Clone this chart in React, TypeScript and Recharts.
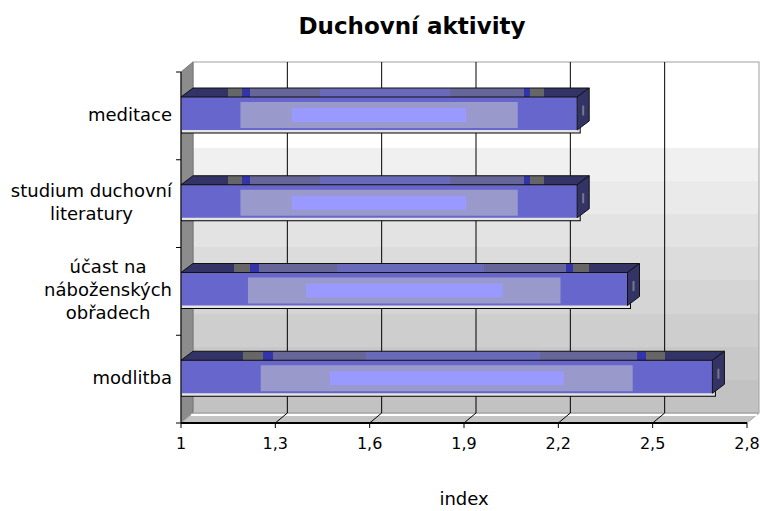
import { BarChart, Bar, XAxis, YAxis, CartesianGrid } from 'recharts';

const categories = ['meditace', 'studium duchovní literatury', 'účast na náboženských obřadech', 'modlitba'];
const categoryLines = [['meditace'], ['studium duchovní', 'literatury'], ['účast na', 'náboženských', 'obřadech'], ['modlitba']];
const values = [2.26, 2.26, 2.42, 2.69];
const xTicks = [1, 1.3, 1.6, 1.9, 2.2, 2.5, 2.8];

const data = categories.map((name, i) => ({ name, lines: categoryLines[i], value: values[i] }));

const W = 760;
const H = 511;
const PLOT_L = 181;
const PLOT_R = 747;
const PLOT_T = 72;
const PLOT_B = 423;
const DX = 12;
const DY = 10;
const BAND = (PLOT_B - PLOT_T) / categories.length;
const FONT = "'DejaVu Sans', sans-serif";
const LABEL_SIZE = 18;

let ctx: CanvasRenderingContext2D | null = null;
const measure = (s: string) => {
  if (!ctx) ctx = document.createElement('canvas').getContext('2d');
  if (!ctx) return s.length * 10;
  ctx.font = `${LABEL_SIZE}px 'DejaVu Sans'`;
  return ctx.measureText(s).width;
};

const CategoryTick = (p: any) => {
  const { y, index, payload } = p;
  const lines: string[] = data.find((d) => d.name === payload.value)?.lines ?? [payload.value];
  const blockW = Math.max(...lines.map(measure));
  const cx = 172 - blockW / 2;
  const lh = 23;
  const first = y - ((lines.length - 1) * lh) / 2 + 5;
  return (
    <g>
      <line x1={PLOT_L - 5} x2={PLOT_L} y1={y - BAND / 2} y2={y - BAND / 2} stroke="#000" />
      {index === categories.length - 1 && (
        <line x1={PLOT_L - 5} x2={PLOT_L} y1={y + BAND / 2} y2={y + BAND / 2} stroke="#000" />
      )}
      <text x={cx} y={first} textAnchor="middle" fontSize={LABEL_SIZE} fontFamily={FONT} fill="#000">
        {lines.map((l, i) => (
          <tspan key={i} x={cx} y={first + i * lh}>
            {l}
          </tspan>
        ))}
      </text>
    </g>
  );
};

const GridLine = (p: any) => {
  const { x1, y1, y2, index } = p;
  if (x1 < PLOT_L + 2 || x1 > PLOT_R - 2) return <g key={`g-${index}`} />;
  return (
    <g key={`g-${index}`}>
      <line x1={x1 + DX} y1={y1 - DY} x2={x1 + DX} y2={y2 - DY} stroke="#000" />
      <line x1={x1 + DX} y1={y2 - DY} x2={x1} y2={y2} stroke="#000" />
    </g>
  );
};

const Bar3D = (p: any) => {
  const { x, y, width: w, height: h, index } = p;
  const yy = y - 2;
  const id = `top-${index}`;
  return (
    <g>
      <defs>
        <linearGradient id={id} x1="0" y1="0" x2="1" y2="0">
          <stop offset="0" stopColor="#333366" />
          <stop offset="0.115" stopColor="#333366" />
          <stop offset="0.115" stopColor="#666666" />
          <stop offset="0.15" stopColor="#666666" />
          <stop offset="0.15" stopColor="#3333aa" />
          <stop offset="0.17" stopColor="#3333aa" />
          <stop offset="0.17" stopColor="#666699" />
          <stop offset="0.34" stopColor="#666699" />
          <stop offset="0.34" stopColor="#6a6abb" />
          <stop offset="0.66" stopColor="#6a6abb" />
          <stop offset="0.66" stopColor="#666699" />
          <stop offset="0.84" stopColor="#666699" />
          <stop offset="0.84" stopColor="#3333aa" />
          <stop offset="0.855" stopColor="#3333aa" />
          <stop offset="0.855" stopColor="#666666" />
          <stop offset="0.89" stopColor="#666666" />
          <stop offset="0.89" stopColor="#333366" />
          <stop offset="1" stopColor="#333366" />
        </linearGradient>
      </defs>
      <rect x={x} y={yy} width={w + 3} height={h + 3} fill="#e4e4e4" stroke="#000" />
      <rect x={x} y={yy} width={w} height={h} fill="#6666cc" />
      <rect x={x + w * 0.15} y={yy + 5} width={w * 0.7} height={h - 7} fill="#9999cc" />
      <rect x={x + w * 0.28} y={yy + 11} width={w * 0.44} height={h - 19} fill="#9999ff" />
      <polygon
        points={`${x},${yy} ${x + DX},${yy - DY + 1} ${x + w + DX},${yy - DY + 1} ${x + w},${yy}`}
        fill={`url(#${id})`}
        stroke="#111"
        strokeLinejoin="round"
      />
      <polygon
        points={`${x + w},${yy} ${x + w + DX},${yy - DY + 1} ${x + w + DX},${yy + h - DY + 1} ${x + w},${yy + h}`}
        fill="#333366"
        stroke="#111"
        strokeLinejoin="round"
      />
      <rect x={x + w + DX / 2 - 1} y={yy + h / 2 - 8} width={2} height={10} fill="#777788" />
    </g>
  );
};

const wallSteps = ['#f0f0f0', '#eaeaea', '#e3e3e3', '#dcdcdc', '#d5d5d5', '#cecece', '#c8c8c8', '#c2c2c2'];

const Walls = () => {
  const top = PLOT_T - DY;
  const bottom = PLOT_B - DY;
  const wallH = bottom - top;
  const whiteEnd = (148 - top) / wallH;
  const step = (1 - whiteEnd) / wallSteps.length;
  return (
    <svg width={W} height={H} style={{ position: 'absolute', left: 0, top: 0 }}>
      <defs>
        <linearGradient id="wall" x1="0" y1="0" x2="0" y2="1">
          <stop offset="0" stopColor="#ffffff" />
          <stop offset={whiteEnd} stopColor="#ffffff" />
          {wallSteps.flatMap((c, i) => [
            <stop key={`a${i}`} offset={whiteEnd + i * step} stopColor={c} />,
            <stop key={`b${i}`} offset={whiteEnd + (i + 1) * step} stopColor={c} />,
          ])}
        </linearGradient>
      </defs>
      <text x={412} y={34} textAnchor="middle" fontSize={23} fontWeight="bold" fontFamily={FONT} fill="#000">
        Duchovní aktivity
      </text>
      <rect x={PLOT_L + DX} y={top} width={PLOT_R - PLOT_L} height={wallH} fill="url(#wall)" stroke="#a0a0a0" />
      <polygon
        points={`${PLOT_L},${PLOT_T} ${PLOT_L + DX},${top} ${PLOT_L + DX},${bottom} ${PLOT_L},${PLOT_B}`}
        fill="#8c8c8c"
        stroke="#777"
      />
      <polygon
        points={`${PLOT_L},${PLOT_B} ${PLOT_L + DX},${bottom} ${PLOT_R + DX},${bottom} ${PLOT_R},${PLOT_B}`}
        fill="#c4c4c4"
        stroke="#a8a8a8"
      />
      <line x1={PLOT_L + DX - 2} y1={bottom + 2} x2={PLOT_R + DX - 2} y2={bottom + 2} stroke="#ffffff" strokeWidth={2} />
    </svg>
  );
};

export default function App() {
  return (
    <div style={{ position: 'absolute', left: 0, top: 0, width: W, height: H, background: '#fff' }}>
      <Walls />
      <div style={{ position: 'absolute', left: 0, top: 0 }}>
        <BarChart
          width={W}
          height={H}
          data={data}
          layout="vertical"
          barCategoryGap={0}
          margin={{ top: PLOT_T, right: W - PLOT_R, bottom: 0, left: 0 }}
        >
          <CartesianGrid horizontal={false} vertical={GridLine} stroke="#000" />
          <XAxis
            type="number"
            domain={[1, 2.8]}
            ticks={xTicks}
            interval={0}
            allowDataOverflow
            height={H - PLOT_B}
            axisLine={{ stroke: '#000', strokeWidth: 2 }}
            tickLine={{ stroke: '#000' }}
            tickSize={5}
            tickMargin={10}
            tick={{ fill: '#000', fontSize: 16, fontFamily: FONT }}
            tickFormatter={(v: number) => String(v).replace('.', ',')}
            label={{ value: 'index', position: 'insideBottom', offset: 6, fill: '#000', fontSize: 18, fontFamily: FONT }}
          />
          <YAxis
            type="category"
            dataKey="name"
            width={PLOT_L}
            axisLine={{ stroke: '#000' }}
            tickLine={false}
            tick={CategoryTick}
            interval={0}
          />
          <Bar dataKey="value" barSize={33} shape={Bar3D} isAnimationActive={false} />
        </BarChart>
      </div>
    </div>
  );
}
